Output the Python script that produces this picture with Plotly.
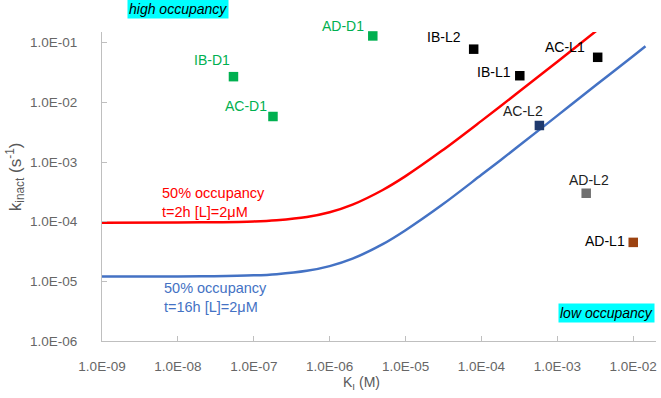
import math
import plotly.graph_objects as go

# ---- data ----
curve_ki = [1e-9, 1e-8, 3e-8, 1e-7, 2e-7, 5e-7, 1e-6, 2e-6, 5e-6, 1e-5, 3e-5, 1e-4, 3e-4, 1e-3, 3.3e-3, 1e-2, 1.45e-2]
red_kinact = [9.6e-5, 9.7e-5, 9.8e-5, 1.01e-4, 1.06e-4, 1.2e-4, 1.44e-4, 1.93e-4, 3.4e-4, 5.8e-4, 1.54e-3, 4.9e-3, 1.45e-2, 4.8e-2, 1.6e-1, None, None]
blue_kinact = [1.2e-5, 1.21e-5, 1.22e-5, 1.26e-5, 1.32e-5, 1.5e-5, 1.8e-5, 2.4e-5, 4.2e-5, 7.2e-5, 1.9e-4, 6.1e-4, 1.8e-3, 6.0e-3, 1.99e-2, 6.0e-2, 8.7e-2]

pt_names = ["IB-D1", "AC-D1", "AD-D1", "IB-L2", "IB-L1", "AC-L1", "AC-L2", "AD-L2", "AD-L1"]
pt_ki = [5.4e-8, 1.79e-7, 3.7e-6, 7.9e-5, 3.2e-4, 3.4e-3, 5.8e-4, 2.4e-3, 1.0e-2]
pt_kinact = [2.7e-2, 5.8e-3, 1.3e-1, 7.8e-2, 2.8e-2, 5.7e-2, 4.1e-3, 3.0e-4, 4.5e-5]

x_tickvals = [1e-9, 1e-8, 1e-7, 1e-6, 1e-5, 1e-4, 1e-3, 1e-2]
x_ticktext = ["1.0E-09", "1.0E-08", "1.0E-07", "1.0E-06", "1.0E-05", "1.0E-04", "1.0E-03", "1.0E-02"]
y_tickvals = [1e-6, 1e-5, 1e-4, 1e-3, 1e-2, 1e-1]
y_ticktext = ["1.0E-06", "1.0E-05", "1.0E-04", "1.0E-03", "1.0E-02", "1.0E-01"]

# ---- styles ----
pt_colors = ["#00B050", "#00B050", "#00B050", "#000000", "#000000", "#000000", "#1F3A6E", "#707070", "#9C4210"]
pt_text_colors = ["#00B050", "#00B050", "#00B050", "#000000", "#000000", "#000000", "#222222", "#222222", "#000000"]
# (xanchor, xshift, yshift) for each point label
label_style = [("right", -2, 17), ("right", -4.5, 11), ("right", -7.7, 9.5), ("right", -11.5, 12),
               ("right", -7.5, 3.5), ("right", -12, 10.5), ("center", -16, 14), ("center", 3, 13.5),
               ("right", -7.3, 1.7)]

FONT = "Liberation Sans"
fig = go.Figure()
fig.add_trace(go.Scatter(x=curve_ki, y=red_kinact, mode="lines", line=dict(color="#FF0000", width=2.5, shape="spline"),
                         showlegend=False, hoverinfo="skip"))
fig.add_trace(go.Scatter(x=curve_ki, y=blue_kinact, mode="lines", line=dict(color="#4472C4", width=2.5, shape="spline"),
                         showlegend=False, hoverinfo="skip"))
fig.add_trace(go.Scatter(x=pt_ki, y=pt_kinact, mode="markers", text=pt_names,
                         marker=dict(symbol="square", size=9.5, color=pt_colors),
                         showlegend=False, cliponaxis=False))

axis_common = dict(showgrid=False, zeroline=False, showline=True, linecolor="#BFBFBF", linewidth=1,
                   ticks="inside", ticklen=5, tickcolor="#BFBFBF",
                   tickfont=dict(family=FONT, size=13.5, color="#666666"))
fig.update_xaxes(type="log", range=[-9, -1.7], tickvals=x_tickvals, ticktext=x_ticktext,
                 ticklabelstandoff=13, **axis_common)
fig.update_yaxes(type="log", range=[-6, -0.82], tickvals=y_tickvals, ticktext=y_ticktext,
                 ticklabelstandoff=21, **axis_common)

ann = []
# annotations on log axes take log10 coordinates
for name, kx, ky, col, (xa, xs, ys) in zip(pt_names, pt_ki, pt_kinact, pt_text_colors, label_style):
    ann.append(dict(text=name, x=math.log10(kx), y=math.log10(ky), xref="x", yref="y", xanchor=xa, yanchor="middle",
                    xshift=xs, yshift=ys, showarrow=False, borderpad=0,
                    font=dict(family=FONT, size=14, color=col)))
ann.append(dict(text="k<sub>inact</sub> (s<sup>-1</sup>)", xref="paper", yref="paper", x=-0.157, y=0.53,
                xanchor="center", yanchor="middle",
                textangle=-90, showarrow=False, font=dict(family=FONT, size=17, color="#595959")))
ann.append(dict(text="K<sub>I</sub> (M)", xref="paper", yref="paper", x=0.469, y=-0.136, yanchor="middle",
                showarrow=False, font=dict(family=FONT, size=14, color="#595959")))
ann.append(dict(text="<i>high occupancy</i>", xref="paper", yref="paper", x=0.045, y=1.073, xanchor="left", yanchor="middle",
                showarrow=False, bgcolor="#00FFFF", borderpad=1, font=dict(family=FONT, size=14, color="#000000")))
ann.append(dict(text="<i>low occupancy</i>", xref="paper", yref="paper", x=0.9975, y=0.092, xanchor="right", yanchor="middle",
                showarrow=False, bgcolor="#00FFFF", borderpad=1, font=dict(family=FONT, size=14, color="#000000")))
ann.append(dict(text="50% occupancy<br>t=2h [L]=2μM", xref="paper", yref="paper", x=0.105, y=0.447, xanchor="left", yanchor="middle",
                align="left", showarrow=False, font=dict(family=FONT, size=14.5, color="#FF0000")))
ann.append(dict(text="50% occupancy<br>t=16h [L]=2μM", xref="paper", yref="paper", x=0.108, y=0.142, xanchor="left", yanchor="middle",
                align="left", showarrow=False, font=dict(family=FONT, size=14.5, color="#4472C4")))

fig.update_layout(width=661, height=398, margin=dict(l=102, r=5, t=32, b=57),
                  plot_bgcolor="white", paper_bgcolor="white", annotations=ann,
                  font=dict(family=FONT))
fig.write_html("out.html", config={"displayModeBar": False},
               post_script="document.body.style.margin='0px';")
